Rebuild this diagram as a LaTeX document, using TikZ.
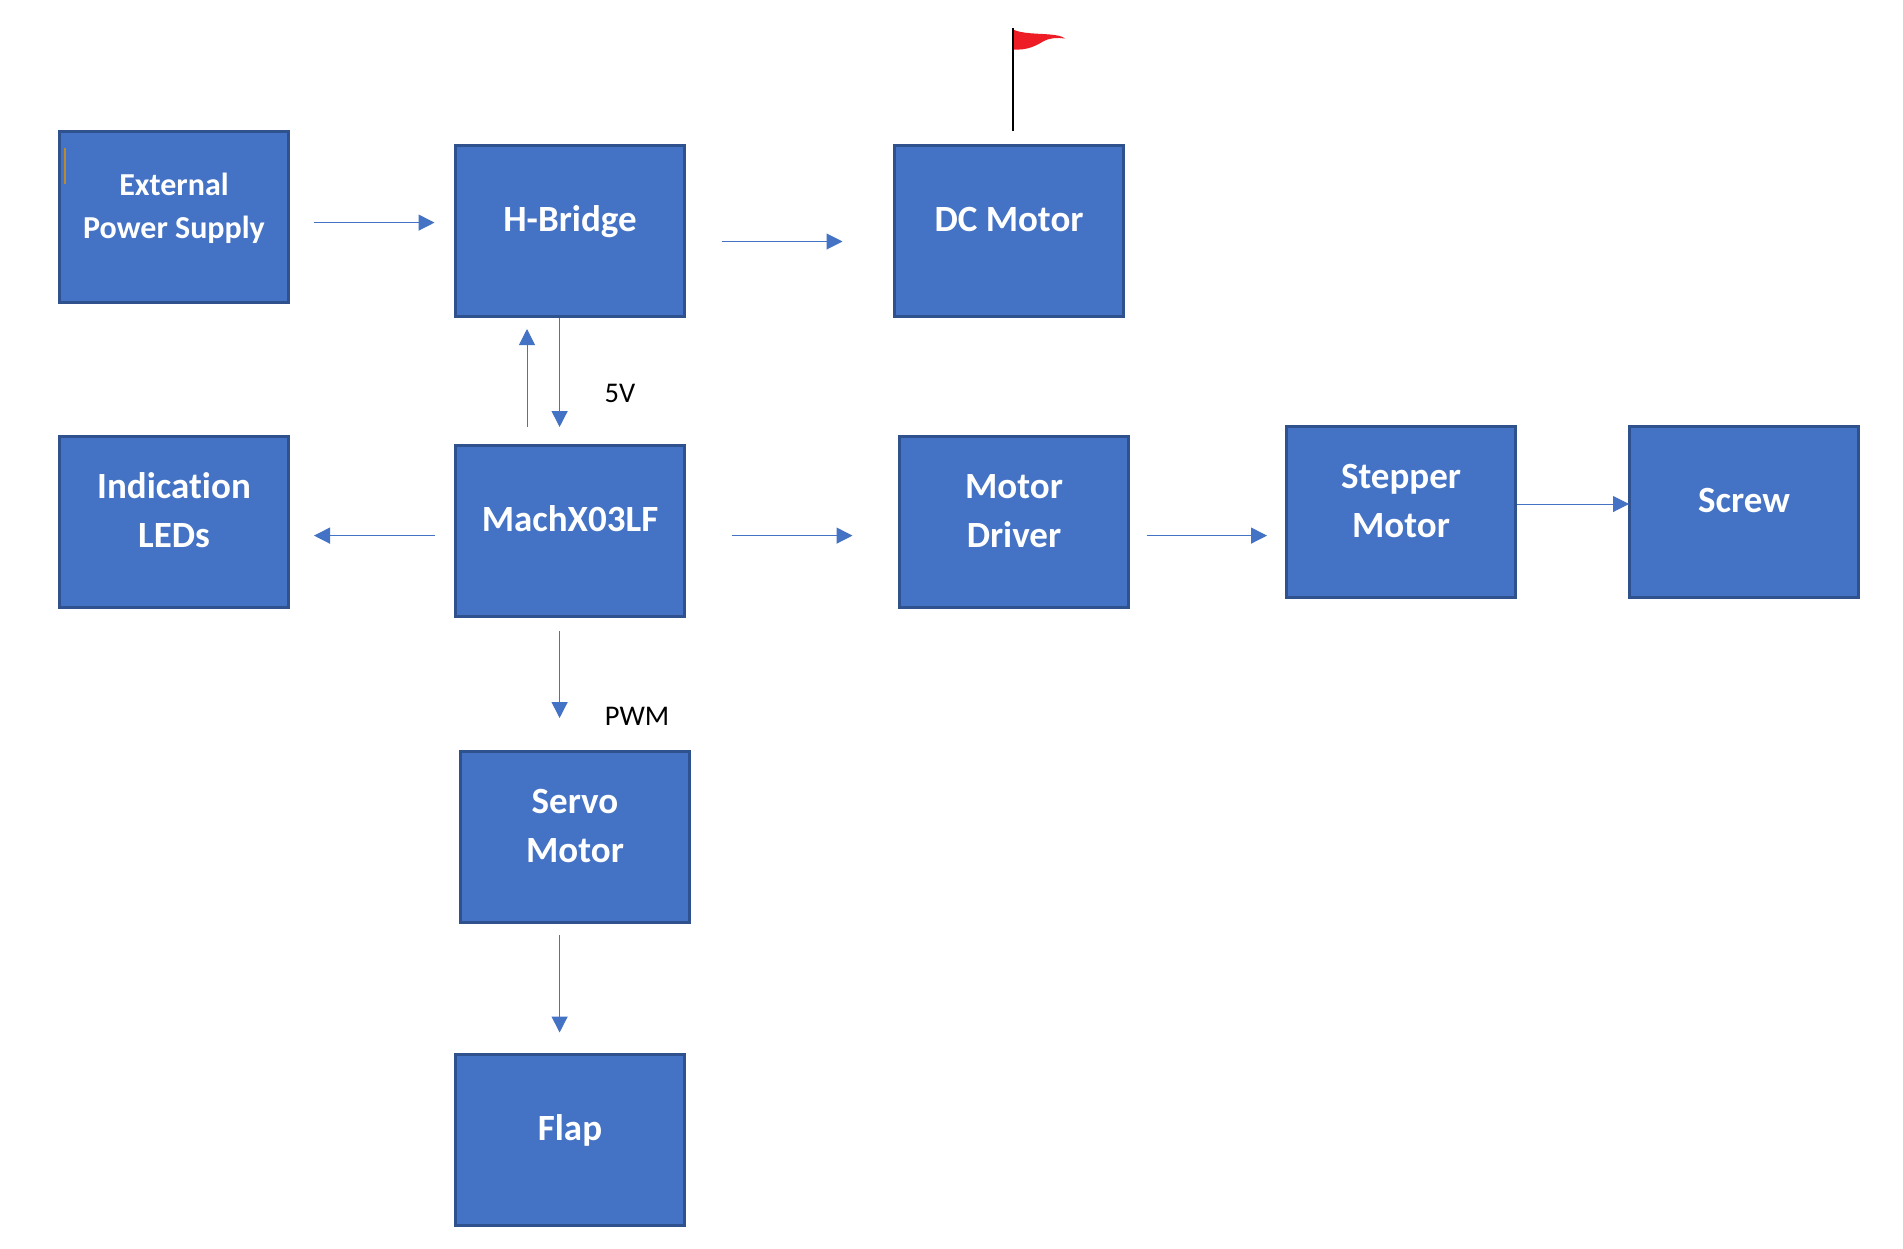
\documentclass[tikz,border=0pt]{standalone}
\usepackage{fontspec}
\setmainfont{Carlito}[Ligatures=NoCommon]
\usetikzlibrary{arrows.meta}
\definecolor{boxfill}{HTML}{4472C4}
\definecolor{boxline}{HTML}{2F528F}
\definecolor{flagred}{HTML}{EE1C25}
\definecolor{markgold}{HTML}{B8892F}
\newcommand{\lft}[1]{\raisebox{2.7pt}[0pt][0pt]{\begin{tabular}{@{}c@{}}#1\end{tabular}}}
\tikzset{
  x=1pt,y=-1pt,
  blockbox/.style={rectangle,draw=boxline,fill=boxfill,line width=3.2pt,minimum width=229pt,minimum height=171pt,inner sep=0pt,text=white,font=\fontsize{37}{49}\selectfont\bfseries},
  smalltext/.style={font=\fontsize{32}{43}\selectfont\bfseries},
  flow/.style={draw=boxfill,line width=1.3pt,-{Triangle[length=16pt,width=16pt]}},
  thinflow/.style={flow,line width=1pt},
  siglabel/.style={inner sep=0pt,text=black,font=\fontsize{28.5}{32}\selectfont}
}
\begin{document}
\begin{tikzpicture}
\useasboundingbox (0,0) rectangle (1903,1248);
\fill[white] (0,0) rectangle (1903,1248);
% blocks
\node[blockbox,smalltext] (ext) at (174,217) {\lft{External\\Power Supply}};
\node[blockbox] (hb) at (570,231) {\lft{H-Bridge}};
\node[blockbox] (dc) at (1009,231) {\lft{DC Motor}};
\node[blockbox] (led) at (174,522) {\lft{Indication\\LEDs}};
\node[blockbox] (mach) at (570,531) {\lft{MachX03LF}};
\node[blockbox] (drv) at (1014,522) {\lft{Motor\\Driver}};
\node[blockbox] (step) at (1401,512) {\lft{Stepper\\Motor}};
\node[blockbox] (screw) at (1744,512) {\lft{Screw}};
\node[blockbox] (servo) at (575,837) {\lft{Servo\\Motor}};
\node[blockbox] (flap) at (570,1140) {\lft{Flap}};
% connector ends
\coordinate (a1) at (313.5,222.6); \coordinate (a2) at (434.5,222.6);
\coordinate (b1) at (721.5,241.5);   \coordinate (b2) at (842.5,241.5);
\coordinate (c1) at (527,427);   \coordinate (c2) at (527,329);
\coordinate (d1) at (559.6,318); \coordinate (d2) at (559.6,427);
\coordinate (e1) at (435,535.6); \coordinate (e2) at (314,535.6);
\coordinate (f1) at (731.5,535.6); \coordinate (f2) at (852.5,535.6);
\coordinate (g1) at (1146.5,535.6); \coordinate (g2) at (1267,535.6);
\coordinate (h1) at (1517,504);  \coordinate (h2) at (1639,504);
\coordinate (i1) at (559.6,631); \coordinate (i2) at (559.6,718);
\coordinate (j1) at (559.6,935); \coordinate (j2) at (559.6,1032.5);
\draw[flow] (a1) -- (a2);
\draw[thinflow] (b1) -- (b2);
\draw[thinflow] (c1) -- (c2);
\draw[flow] (d1) -- (d2);
\draw[flow] (e1) -- (e2);
\draw[flow] (f1) -- (f2);
\draw[flow] (g1) -- (g2);
\draw[thinflow,shorten >=10pt] (h1) -- (h2);
\draw[flow] (i1) -- (i2);
\draw[flow] (j1) -- (j2);
% labels
\node[siglabel] (v5) at (620,393) {5V};
\node[siglabel] (pwm) at (637,716.5) {PWM};
% flag on the DC motor
\fill[flagred] (1013,29.5) .. controls (1022,34) and (1040,33.5) .. (1050,34.5)
  .. controls (1056,35) and (1062,36) .. (1065,38.5)
  .. controls (1058,37.5) and (1051,37.5) .. (1044,41)
  .. controls (1036,45.5) and (1028,50.5) .. (1013,49.5) -- cycle;
\draw[black,line width=1.7pt] (1012.8,28) -- (1012.8,130.5);
% stray mark
\draw[markgold,line width=1.7pt] (65,148) -- (65,184);
\end{tikzpicture}
\end{document}
